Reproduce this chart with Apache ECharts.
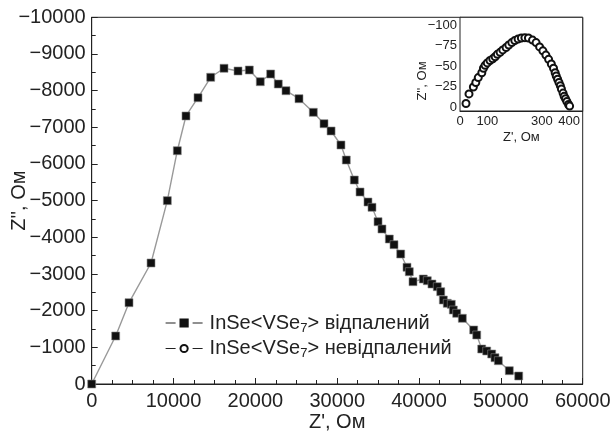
<!DOCTYPE html>
<html><head><meta charset="utf-8">
<script src="https://cdn.jsdelivr.net/npm/echarts@6/dist/echarts.min.js"></script>
<style>html,body{margin:0;padding:0;background:#fff}#c{width:613px;height:436px}</style>
</head><body><div id="c"></div>
<script>
// Main: annealed InSe<VSe7>
const annealedRe = [0, 2930, 4560, 7250, 9240, 10460, 11520, 12990, 14540, 16170, 17880, 19260, 20600, 21870, 22800, 23740, 25330, 27080, 28390, 29250, 30460, 31110, 32090, 32790, 33760, 34250, 34990, 35470, 36370, 36940, 37760, 38530, 38810, 39260, 40520, 41010, 41580, 42230, 42650, 42970, 43450, 43940, 44190, 44600, 45290, 46680, 47050, 47660, 48270, 48880, 49280, 49690, 51030, 52180];
const annealedIm = [0, -1309, -2217, -3300, -5000, -6362, -7309, -7807, -8364, -8610, -8536, -8563, -8244, -8454, -8181, -7998, -7780, -7409, -7098, -6900, -6518, -6108, -5563, -5236, -4963, -4819, -4426, -4227, -3954, -3799, -3545, -3183, -3062, -2790, -2863, -2817, -2727, -2653, -2517, -2291, -2201, -2173, -2018, -1928, -1792, -1473, -1336, -954, -900, -818, -717, -635, -363, -218];
// Inset: non-annealed
const unannealedRe = [22, 33, 49, 58, 67, 80, 86, 92, 100, 110, 120, 129, 137, 147, 157, 169, 179, 190, 201, 213, 225, 238, 251, 266, 279, 292, 304, 315, 325, 335, 343, 349, 353, 358, 363, 368, 372, 378, 382, 387, 392, 398, 402];
const unannealedIm = [-4.2, -16, -24.5, -30, -36, -42, -47.5, -51, -54, -57, -59, -61.6, -64.5, -67, -70, -73, -76, -79, -81.5, -83.4, -84.6, -85, -84.6, -82, -79, -73.7, -68.8, -63.6, -58.4, -52.7, -47.5, -42, -38, -34, -30, -26, -22, -17, -13, -10, -6.7, -3, -1];
const mainYTicks = [-10000, 0];
const insetXLabels = [0, 100, 300, 400];
const insetYLabels = [-100, -75, -50, -25, 0];
const seriesNames = ['відпалений', 'невідпалений'];

const FONT = 'Liberation Sans, Arial, Helvetica, sans-serif';
const C = '#222';
const minus = v => (v < 0 ? '\u2212' + Math.abs(v) : String(v));
const plain = v => String(v);
const zip = (a, b) => a.map((v, i) => [v, b[i]]);

const chart = echarts.init(document.getElementById('c'), null, {renderer: 'canvas'});
chart.setOption({
  animation: false,
  backgroundColor: '#fff',
  textStyle: {fontFamily: FONT, color: C},
  grid: [
    {left: 91.7, top: 17.3, right: 30.3, bottom: 52, containLabel: false, outerBoundsMode: 'none',
     show: true, borderColor: C, borderWidth: 1, backgroundColor: 'transparent'},
    {left: 460, top: 17.3, right: 30.3, bottom: 325, containLabel: false, outerBoundsMode: 'none',
     show: true, borderColor: C, borderWidth: 1, backgroundColor: '#fff', z: 5}
  ],
  xAxis: [
    {type: 'value', gridIndex: 0, min: 0, max: 60000, interval: 10000,
     axisLine: {show: true, onZero: false, lineStyle: {color: C, width: 1}},
     axisTick: {show: true, inside: true, length: 6, lineStyle: {color: C}},
     minorTick: {show: true, splitNumber: 4, length: 4, lineStyle: {color: C}},
     splitLine: {show: false},
     axisLabel: {fontSize: 20, color: C, margin: 7, fontFamily: FONT, formatter: plain},
     name: "Z', Ом", nameLocation: 'middle', nameGap: 28, nameMoveOverlap: false,
     nameTextStyle: {fontSize: 20, color: C, fontFamily: FONT}},
    {type: 'value', gridIndex: 1, min: 0, max: 450, interval: 100,
     axisLine: {show: true, onZero: false, lineStyle: {color: C, width: 1}},
     axisTick: {show: true, inside: true, length: 3, lineStyle: {color: C}},
     splitLine: {show: false},
     axisLabel: {fontSize: 13, color: C, margin: 4, fontFamily: FONT, customValues: insetXLabels, formatter: plain},
     name: "Z', Ом", nameLocation: 'middle', nameGap: 20,
     nameTextStyle: {fontSize: 13, color: C, fontFamily: FONT}}
  ],
  yAxis: [
    {type: 'value', gridIndex: 0, inverse: true, min: mainYTicks[0], max: mainYTicks[1], interval: 1000,
     axisLine: {show: true, onZero: false, lineStyle: {color: C, width: 1}},
     axisTick: {show: true, inside: true, length: 6, lineStyle: {color: C}},
     minorTick: {show: true, splitNumber: 2, length: 4, lineStyle: {color: C}},
     splitLine: {show: false},
     axisLabel: {fontSize: 20, color: C, margin: 6, fontFamily: FONT, formatter: minus},
     name: "Z'', Ом", nameLocation: 'middle', nameGap: 62, nameRotate: 90, nameMoveOverlap: false,
     nameTextStyle: {fontSize: 20, color: C, fontFamily: FONT}},
    {type: 'value', gridIndex: 1, inverse: true, min: -110, max: 5,
     axisLine: {show: true, onZero: false, lineStyle: {color: C, width: 1}},
     axisTick: {show: true, inside: true, length: 3, customValues: insetYLabels, lineStyle: {color: C}},
     splitLine: {show: false},
     axisLabel: {fontSize: 13, color: C, margin: 3, fontFamily: FONT, customValues: insetYLabels, formatter: minus}}
  ],
  graphic: [
    {type: 'text', x: 422, y: 81, rotation: Math.PI / 2, z: 10,
     style: {text: "Z'', Ом", fontSize: 13, fontFamily: FONT, fill: C, align: 'center', verticalAlign: 'middle'}}
  ],
  legend: {
    orient: 'vertical', left: 160, top: 308, itemGap: 4, itemWidth: 37, itemHeight: 9,
    data: [
      {name: seriesNames[0], itemStyle: {color: '#111', borderColor: '#111'}, lineStyle: {color: C, width: 1.2, type: [10, 17]}},
      {name: seriesNames[1], lineStyle: {color: C, width: 1.2, type: [10, 17]}}
    ],
    formatter: n => 'InSe<VSe{s|7}> ' + n,
    textStyle: {fontSize: 20, color: C, fontFamily: FONT, padding: [0, 0, 0, 2],
      rich: {s: {fontSize: 13, verticalAlign: 'bottom', padding: [10, 0, 0, 0], fontFamily: FONT, color: C}}}
  },
  series: [
    {name: seriesNames[0], type: 'line', xAxisIndex: 0, yAxisIndex: 0,
     data: zip(annealedRe, annealedIm), symbol: 'rect', symbolSize: 8,
     itemStyle: {color: '#111', borderColor: '#888', borderWidth: 0.6},
     lineStyle: {color: '#999', width: 1.4}, z: 3},
    {name: seriesNames[1], type: 'line', xAxisIndex: 1, yAxisIndex: 1,
     data: zip(unannealedRe, unannealedIm), symbol: 'emptyCircle', symbolSize: 7,
     itemStyle: {color: '#111', borderWidth: 1},
     lineStyle: {color: '#ccc', width: 0.8}, z: 6}
  ]
});
</script></body></html>
